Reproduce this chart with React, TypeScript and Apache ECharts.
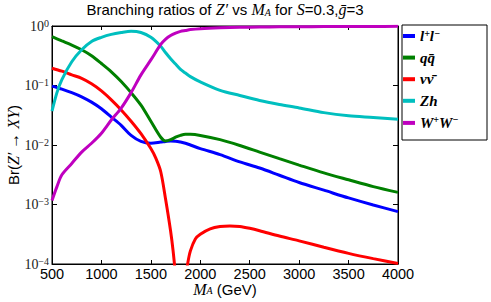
import React, { useEffect, useRef } from "react";
import * as echarts from "echarts";

// Mass grid (GeV) shared by l+l-, qq, Zh, WW
const massGrid = [500, 550, 600, 700, 800, 900, 1000, 1100, 1200, 1300, 1400, 1500, 1600, 1650, 1700, 1750, 1800, 1850, 1900, 2000, 2200, 2400, 2600, 2800, 3000, 3250, 3500, 3750, 4000];

const brLL = [0.0977, 0.0923, 0.0871, 0.0759, 0.0646, 0.0525, 0.0407, 0.0295, 0.0214, 0.0145, 0.0115, 0.0107, 0.0112, 0.0115, 0.0117, 0.0116, 0.0112, 0.0107, 0.0100, 0.0087, 0.0069, 0.0052, 0.0041, 0.0031, 0.00234, 0.00174, 0.00129, 0.00098, 0.00076];
const brQQ = [0.661, 0.610, 0.562, 0.479, 0.398, 0.316, 0.234, 0.170, 0.117, 0.0759, 0.0468, 0.0251, 0.0135, 0.0117, 0.0123, 0.0135, 0.0145, 0.0151, 0.0151, 0.0145, 0.0123, 0.0098, 0.0076, 0.0059, 0.0046, 0.0034, 0.0026, 0.0020, 0.0016];
const brZh = [0.037, 0.076, 0.126, 0.251, 0.398, 0.550, 0.646, 0.724, 0.776, 0.813, 0.776, 0.646, 0.457, 0.355, 0.282, 0.229, 0.186, 0.162, 0.141, 0.115, 0.083, 0.068, 0.056, 0.048, 0.042, 0.035, 0.031, 0.029, 0.027];
const brWW = [0.00117, 0.0020, 0.00316, 0.0049, 0.0076, 0.0107, 0.0158, 0.0263, 0.0417, 0.0759, 0.151, 0.269, 0.490, 0.603, 0.692, 0.759, 0.813, 0.841, 0.871, 0.902, 0.933, 0.951, 0.962, 0.968, 0.973, 0.977, 0.982, 0.984, 0.986];

// nu nu-bar has its own, finer grid around its zero
const massNuNu = [500, 600, 700, 800, 900, 1000, 1100, 1200, 1300, 1400, 1500, 1550, 1600, 1650, 1700, 1725, 1750, 1775, 1800, 1825, 1850, 1875, 1900, 1950, 2000, 2100, 2200, 2300, 2400, 2500, 2600, 2800, 3000, 3250, 3500, 3750, 4000];
const brNuNu = [0.195, 0.174, 0.151, 0.132, 0.107, 0.0813, 0.0575, 0.0389, 0.0251, 0.0155, 0.0087, 0.0060, 0.00355, 0.0012, 0.000355, 0.000166, 0.000063, 0.00002, 0.0000032, 0.0000178, 0.000056, 0.000107, 0.000166, 0.000263, 0.000316, 0.000389, 0.000427, 0.000437, 0.000427, 0.000398, 0.000363, 0.000295, 0.000245, 0.000191, 0.000151, 0.000123, 0.000102];

const seriesNames = ["ll", "qq", "nunu", "Zh", "WW"];
const seriesColors = ["#0000ff", "#008000", "#ff0000", "#00bfbf", "#bf00bf"];
const legendRich: Record<string, string> = {
  ll: "{i|l}{s|+}{i|l}{s|−}",
  qq: "{i|qq̄}",
  nunu: "{i|νν̄}",
  Zh: "{i|Zh}",
  WW: "{i|W}{s|+}{i|W}{s|−}",
};

const SERIF = "'Liberation Serif', 'DejaVu Serif', serif";
const SANS = "'Liberation Sans', Arial, sans-serif";

const pair = (xs: number[], ys: number[]) => xs.map((x, i) => [x, ys[i]]);

export default function App() {
  const ref = useRef<HTMLDivElement>(null);
  useEffect(() => {
    if (!ref.current) return;
    const chart = echarts.init(ref.current, undefined, { renderer: "svg" });
    const dataSets = [
      pair(massGrid, brLL),
      pair(massGrid, brQQ),
      pair(massNuNu, brNuNu),
      pair(massGrid, brZh),
      pair(massGrid, brWW),
    ];
    const mathRich = {
      t: { fontFamily: SANS, fontSize: 15, color: "#000", lineHeight: 16 },
      m: { fontFamily: SERIF, fontStyle: "italic", fontSize: 16, color: "#000", lineHeight: 16 },
      r: { fontFamily: SERIF, fontSize: 16, color: "#000", lineHeight: 16 },
      sub: { fontFamily: SERIF, fontStyle: "italic", fontSize: 10, color: "#000", verticalAlign: "bottom", lineHeight: 10 },
    };
    const xNameRich = {
      t: { fontFamily: SANS, fontSize: 15, color: "#000", lineHeight: 13 },
      m: { fontFamily: SERIF, fontStyle: "italic", fontSize: 16, color: "#000", lineHeight: 13 },
      sub: { fontFamily: SERIF, fontStyle: "italic", fontSize: 10, color: "#000", verticalAlign: "bottom", lineHeight: 8 },
    };
    const yLabelRich = {
      b: { fontFamily: SERIF, fontSize: 14, color: "#222", lineHeight: 16 },
      s: { fontFamily: SERIF, fontSize: 10, color: "#222", verticalAlign: "top", lineHeight: 10 },
    };
    const option: any = {
      animation: false,
      backgroundColor: "#fff",
      grid: {
        left: 52, right: 93, top: 26, bottom: 38,
        containLabel: false, outerBoundsMode: "none",
        show: true, borderColor: "#000", borderWidth: 1,
      },
      xAxis: [
        {
          type: "value", min: 500, max: 4000, interval: 500, position: "bottom",
          axisLine: { show: true, lineStyle: { color: "#000" } },
          axisTick: { show: true, inside: true, length: 4, lineStyle: { color: "#000" } },
          splitLine: { show: false },
          axisLabel: { margin: 3, fontFamily: SANS, fontSize: 14.5, lineHeight: 13, color: "#000", formatter: (v: number) => String(v) },
        },
        {
          type: "value", min: 500, max: 4000, interval: 500, position: "top",
          axisLine: { show: true, lineStyle: { color: "#000" } },
          axisTick: { show: true, inside: true, length: 4, lineStyle: { color: "#000" } },
          splitLine: { show: false }, axisLabel: { show: false },
        },
      ],
      yAxis: [
        {
          type: "log", logBase: 10, min: 0.0001, max: 1, position: "left",
          axisLine: { show: true, lineStyle: { color: "#000" } },
          axisTick: { show: true, inside: true, length: 5, lineStyle: { color: "#000" } },
          splitLine: { show: false },
          axisLabel: {
            margin: 3,
            formatter: (v: number) => {
              const e = Math.round(Math.log10(v));
              return "{b|10}{s|" + (e === 0 ? "0" : "−" + -e) + "}";
            },
            rich: yLabelRich,
          },
        },
        {
          type: "log", logBase: 10, min: 0.0001, max: 1, position: "right",
          axisLine: { show: true, lineStyle: { color: "#000" } },
          axisTick: { show: true, inside: true, length: 5, lineStyle: { color: "#000" } },
          splitLine: { show: false }, axisLabel: { show: false },
        },
      ],
      legend: {
        orient: "vertical",
        left: 403,
        top: 28,
        padding: 0,
        itemGap: 6.6,
        itemWidth: 12,
        itemHeight: 4,
        icon: "rect",
        data: seriesNames.map((n, i) => ({ name: n, itemStyle: { color: seriesColors[i] } })),
        formatter: (name: string) => legendRich[name],
        textStyle: {
          rich: {
            i: { fontFamily: SERIF, fontStyle: "italic", fontWeight: "bold", fontSize: 15, lineHeight: 16, color: "#000" },
            s: { fontFamily: SERIF, fontStyle: "italic", fontWeight: "bold", fontSize: 10, verticalAlign: "top", lineHeight: 10, color: "#000" },
          },
        },
      },
      graphic: [
        {
          type: "rect",
          shape: { x: 402, y: 25, width: 85, height: 115 },
          style: { fill: "none", stroke: "#000", lineWidth: 1 },
          z: 10,
        },
        {
          type: "text",
          x: 225,
          y: 9,
          style: {
            text: "{t|Branching ratios of }{m|Z′}{t| vs }{m|M}{sub|A}{t| for }{m|S}{t|=0.3,}{m|ḡ}{t|=3}",
            align: "center",
            verticalAlign: "middle",
            rich: mathRich,
          },
        },
        {
          type: "text",
          x: 13,
          y: 145,
          rotation: Math.PI / 2,
          style: {
            text: "{t|Br(}{m|Z′}{r| → }{m|XY}{t|)}",
            align: "center",
            verticalAlign: "middle",
            rich: mathRich,
          },
        },
        {
          type: "text",
          x: 225,
          y: 289,
          style: {
            text: "{m|M}{sub|A}{t| (GeV)}",
            align: "center",
            verticalAlign: "middle",
            rich: xNameRich,
          },
        },
      ],
      series: seriesNames.map((n, i) => ({
        name: n,
        type: "line",
        data: dataSets[i],
        showSymbol: false,
        smooth: 0.3,
        clip: true,
        lineStyle: { color: seriesColors[i], width: 3 },
        itemStyle: { color: seriesColors[i] },
      })),
    };
    chart.setOption(option);
    return () => chart.dispose();
  }, []);
  return <div ref={ref} style={{ width: 491, height: 302, position: "absolute", left: 0, top: 0 }} />;
}
